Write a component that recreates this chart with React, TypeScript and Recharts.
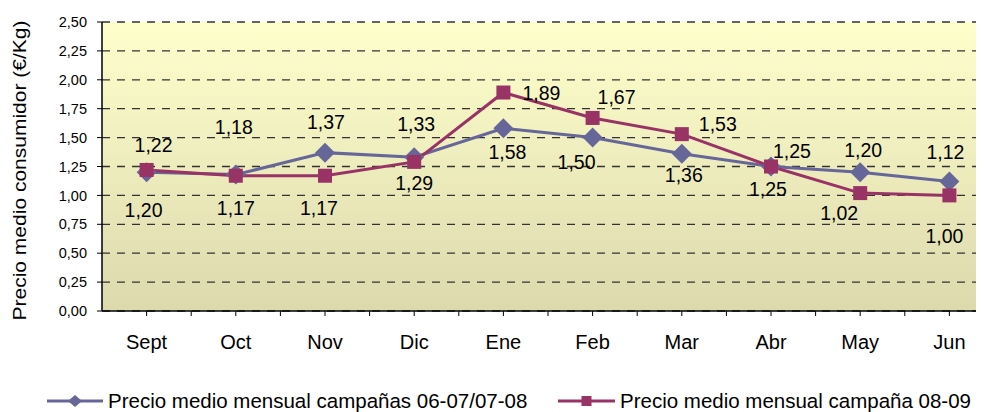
import React from 'react';
import { LineChart, Line, XAxis, YAxis, CartesianGrid, Legend, LabelList } from 'recharts';

const months = ['Sept', 'Oct', 'Nov', 'Dic', 'Ene', 'Feb', 'Mar', 'Abr', 'May', 'Jun'];
const avgPrevious = [1.2, 1.18, 1.37, 1.33, 1.58, 1.5, 1.36, 1.25, 1.2, 1.12];
const avgCurrent = [1.22, 1.17, 1.17, 1.29, 1.89, 1.67, 1.53, 1.25, 1.02, 1.0];
const yTicks = [0, 0.25, 0.5, 0.75, 1, 1.25, 1.5, 1.75, 2, 2.25, 2.5];
const seriesNames = ['Precio medio mensual campañas 06-07/07-08', 'Precio medio mensual campaña 08-09'];
const yTitle = 'Precio medio consumidor (€/Kg)';

const data = months.map((m, i) => ({ month: m, prev: avgPrevious[i], cur: avgCurrent[i] }));

// label placement (layout only): [dx, dy] from the point
const prevLabelOffsets = [[-3, 38], [-2, -48], [1, -31], [2, -33], [4, 24], [-16, 24], [2, 21], [-3, 22], [3, -22], [-4, -30]];
const curLabelOffsets = [[7, -25], [0, 32], [-6, 32], [0, 21], [38, 0], [24, -21], [36, -10], [21, -16], [-21, 20], [-5, 41]];

const BLUE = '#666699';
const PURPLE = '#993366';
const FONT = '"Liberation Sans", Arial, sans-serif';
const HALF_BAND = 44.6;

const fmt = (v: number) => v.toFixed(2).replace('.', ',');

const makeLabel = (offsets: number[][]) => (props: any) => {
  const { x, y, value, index } = props;
  if (x == null || y == null) return null;
  const [dx, dy] = offsets[index] || [0, 0];
  return (
    <text x={x + dx} y={y + dy} textAnchor="middle" dominantBaseline="central" fontSize={19.5} fill="#000" fontFamily={FONT}>
      {fmt(Number(value))}
    </text>
  );
};

const DiamondDot = (props: any) => {
  const { cx, cy, index } = props;
  if (cx == null || cy == null) return <g key={`d${index}`} />;
  const r = 10;
  return <polygon key={`d${index}`} points={`${cx},${cy - r} ${cx + r},${cy} ${cx},${cy + r} ${cx - r},${cy}`} fill={BLUE} />;
};

const SquareDot = (props: any) => {
  const { cx, cy, index } = props;
  if (cx == null || cy == null) return <g key={`s${index}`} />;
  const s = 14;
  return <rect key={`s${index}`} x={cx - s / 2} y={cy - s / 2} width={s} height={s} fill={PURPLE} />;
};

const XTick = (props: any) => {
  const { x, y, payload } = props;
  const axisY = y - 24;
  return (
    <g>
      <line x1={x + HALF_BAND} x2={x + HALF_BAND} y1={axisY} y2={axisY + 5} stroke="#000" />
      <text x={x} y={y} dy="0.71em" textAnchor="middle" fontSize={20} fill="#000" fontFamily={FONT}>
        {payload.value}
      </text>
    </g>
  );
};

const YTitle = (props: any) => {
  const { viewBox } = props;
  const cy = (viewBox ? viewBox.y + viewBox.height / 2 : 160) + 4;
  return (
    <text
      x={18}
      y={cy}
      transform={`rotate(-90, 18, ${cy})`}
      textAnchor="middle"
      fontSize={18}
      fill="#000"
      fontFamily={FONT}
      textLength={300}
      lengthAdjust="spacingAndGlyphs"
    >
      {yTitle}
    </text>
  );
};

const legendLayout = [
  { lineFrom: 39, lineTo: 95, text: 100, marker: 'diamond' },
  { lineFrom: 550, lineTo: 607, text: 612, marker: 'square' },
];

const renderLegend = (props: any) => {
  const payload = props.payload || [];
  return (
    <svg width={976} height={24} style={{ display: 'block', overflow: 'visible' }}>
      {payload.map((p: any) => {
        const i = seriesNames.indexOf(p.value);
        const l = legendLayout[i];
        if (!l) return null;
        const c = p.color;
        const mx = (l.lineFrom + l.lineTo) / 2;
        const my = 13;
        return (
          <g key={i}>
            <line x1={l.lineFrom} x2={l.lineTo} y1={my} y2={my} stroke={c} strokeWidth={3} />
            {l.marker === 'diamond' ? (
              <polygon points={`${mx},${my - 6} ${mx + 7},${my} ${mx},${my + 6} ${mx - 7},${my}`} fill={c} />
            ) : (
              <rect x={mx - 5} y={my - 5} width={10} height={10} fill={c} />
            )}
            <text x={l.text} y={my - 1} dominantBaseline="central" fontSize={20.5} fill="#000" fontFamily={FONT}>
              {p.value}
            </text>
          </g>
        );
      })}
    </svg>
  );
};

export default function App() {
  return (
    <div style={{ width: 976, height: 404, overflow: 'hidden', fontFamily: FONT }}>
      <LineChart width={1000} height={404} data={data} margin={{ top: 14, right: 14, bottom: 41, left: 0 }}>
        <defs>
          <linearGradient id="bgGrad" x1="0" y1="0" x2="0" y2="1">
            <stop offset="0%" stopColor="#FFFFCC" />
            <stop offset="100%" stopColor="#DCD9AD" />
          </linearGradient>
        </defs>
        <CartesianGrid
          vertical={false}
          horizontal={true}
          stroke="#333333"
          strokeWidth={1.3}
          strokeDasharray="8 7"
          fill="url(#bgGrad)"
          fillOpacity={1}
        />
        <XAxis
          dataKey="month"
          padding={{ left: HALF_BAND, right: HALF_BAND }}
          axisLine={{ stroke: '#000', strokeWidth: 1.5 }}
          tickLine={{ stroke: '#000' }}
          tickSize={5}
          tickMargin={19}
          tick={<XTick />}
          interval={0}
          height={60}
        />
        <YAxis
          width={94}
          domain={[0, 2.5]}
          ticks={yTicks}
          interval={0}
          tickFormatter={fmt}
          axisLine={{ stroke: '#000', strokeWidth: 1.5 }}
          tickLine={{ stroke: '#000' }}
          tickSize={5}
          tickMargin={10}
          tick={{ fontSize: 14.5, fill: '#000', fontFamily: FONT }}
          label={<YTitle />}
        />
        <Legend
          layout="horizontal"
          verticalAlign="middle"
          align="center"
          wrapperStyle={{ position: 'absolute', left: 0, top: 380, width: 976, height: 24 }}
          content={renderLegend}
        />
        <Line
          dataKey="prev"
          name={seriesNames[0]}
          stroke={BLUE}
          strokeWidth={3}
          dot={DiamondDot}
          activeDot={false}
          isAnimationActive={false}
        >
          <LabelList dataKey="prev" content={makeLabel(prevLabelOffsets)} />
        </Line>
        <Line
          dataKey="cur"
          name={seriesNames[1]}
          stroke={PURPLE}
          strokeWidth={3}
          dot={SquareDot}
          activeDot={false}
          isAnimationActive={false}
        >
          <LabelList dataKey="cur" content={makeLabel(curLabelOffsets)} />
        </Line>
      </LineChart>
    </div>
  );
}
